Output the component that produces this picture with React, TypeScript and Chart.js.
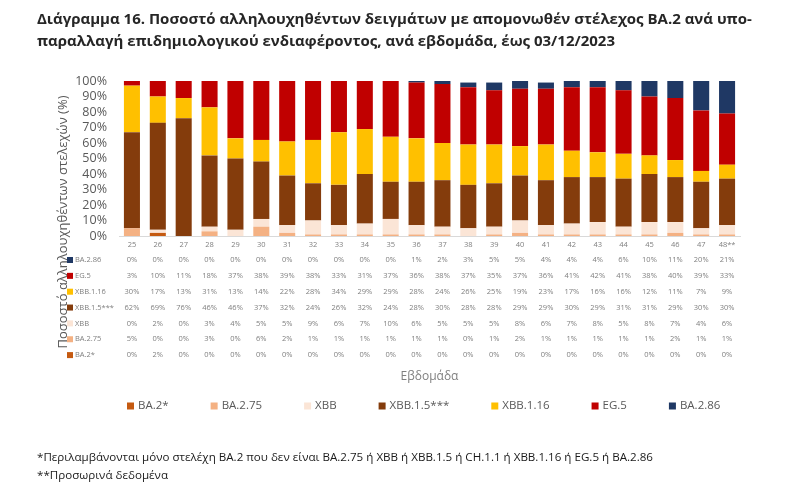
import React, { useEffect, useRef } from "react";
import { Chart, registerables } from "chart.js";

Chart.register(...registerables);

const FONT = "'Open Sans', 'Noto Sans', sans-serif";

const weeks = ["25", "26", "27", "28", "29", "30", "31", "32", "33", "34", "35", "36", "37", "38", "39", "40", "41", "42", "43", "44", "45", "46", "47", "48**"];

const ba2 = [0, 2, 0, 0, 0, 0, 0, 0, 0, 0, 0, 0, 0, 0, 0, 0, 0, 0, 0, 0, 0, 0, 0, 0];
const ba275 = [5, 0, 0, 3, 0, 6, 2, 1, 1, 1, 1, 1, 1, 0, 1, 2, 1, 1, 1, 1, 1, 2, 1, 1];
const xbb = [0, 2, 0, 3, 4, 5, 5, 9, 6, 7, 10, 6, 5, 5, 5, 8, 6, 7, 8, 5, 8, 7, 4, 6];
const xbb15 = [62, 69, 76, 46, 46, 37, 32, 24, 26, 32, 24, 28, 30, 28, 28, 29, 29, 30, 29, 31, 31, 29, 30, 30];
const xbb116 = [30, 17, 13, 31, 13, 14, 22, 28, 34, 29, 29, 28, 24, 26, 25, 19, 23, 17, 16, 16, 12, 11, 7, 9];
const eg5 = [3, 10, 11, 18, 37, 38, 39, 38, 33, 31, 37, 36, 38, 37, 35, 37, 36, 41, 42, 41, 38, 40, 39, 33];
const ba286 = [0, 0, 0, 0, 0, 0, 0, 0, 0, 0, 0, 1, 2, 3, 5, 5, 4, 4, 4, 6, 10, 11, 20, 21];

const seriesNames = ["BA.2*", "BA.2.75", "XBB", "XBB.1.5***", "XBB.1.16", "EG.5", "BA.2.86"];
const seriesValues = [ba2, ba275, xbb, xbb15, xbb116, eg5, ba286];
const seriesColors = ["#C55A11", "#F4B183", "#FBE5D6", "#843C0C", "#FFC000", "#C00000", "#1F3864"];

const yTitle = "Ποσοστό αλληλουχηθέντων στελεχών (%)";
const xTitle = "Εβδομάδα";
const titleLines = [
  "Διάγραμμα 16. Ποσοστό αλληλουχηθέντων δειγμάτων με απομονωθέν στέλεχος BA.2 ανά υπο-",
  "παραλλαγή επιδημιολογικού ενδιαφέροντος, ανά εβδομάδα, έως 03/12/2023",
];
const footnotes = [
  "*Περιλαμβάνονται μόνο στελέχη BA.2 που δεν είναι BA.2.75 ή XBB ή XBB.1.5 ή CH.1.1 ή XBB.1.16 ή EG.5 ή BA.2.86",
  "**Προσωρινά δεδομένα",
];

const extrasPlugin = {
  id: "extras",
  afterDraw(chart: any) {
    const ctx = chart.ctx as CanvasRenderingContext2D;
    const xs = chart.scales.x;
    const area = chart.chartArea;
    const dsets = chart.data.datasets;

    // y-axis title
    ctx.save();
    ctx.translate(63, 222);
    ctx.rotate(-Math.PI / 2);
    ctx.font = `13px ${FONT}`;
    ctx.fillStyle = "#595959";
    ctx.textAlign = "center";
    ctx.textBaseline = "middle";
    ctx.fillText(yTitle, 0, 0);
    ctx.restore();

    // data table
    ctx.save();
    ctx.font = `7.5px ${FONT}`;
    ctx.textBaseline = "middle";
    const order = dsets.map((_: any, i: number) => i).reverse();
    order.forEach((di: number, r: number) => {
      const ds = dsets[di];
      const y = area.bottom + 24 + r * 15.85;
      ctx.fillStyle = ds.backgroundColor;
      ctx.fillRect(67, y - 3, 6, 6);
      ctx.fillStyle = "#7f7f7f";
      ctx.textAlign = "left";
      ctx.fillText(ds.label, 75, y);
      ctx.textAlign = "center";
      (ds.data as number[]).forEach((v, j) => {
        ctx.fillText(v + "%", xs.getPixelForValue(j), y);
      });
    });
    ctx.restore();

    // legend
    ctx.save();
    ctx.font = `11.5px ${FONT}`;
    ctx.textBaseline = "middle";
    ctx.textAlign = "left";
    let x = 127;
    const ly = 406;
    dsets.forEach((ds: any) => {
      ctx.fillStyle = ds.backgroundColor;
      ctx.fillRect(x, ly - 3.5, 7, 7);
      ctx.fillStyle = "#595959";
      ctx.fillText(ds.label, x + 11, ly);
      x += 11 + ctx.measureText(ds.label).width + 42;
    });
    ctx.restore();
  },
};

export default function App() {
  const ref = useRef<HTMLCanvasElement | null>(null);

  useEffect(() => {
    if (!ref.current) return;
    const chart = new Chart(ref.current, {
      type: "bar",
      data: {
        labels: weeks,
        datasets: seriesNames.map((n, i) => ({
          label: n,
          data: seriesValues[i],
          backgroundColor: seriesColors[i],
          borderWidth: 0,
          barPercentage: 0.62,
          categoryPercentage: 1,
        })),
      },
      options: {
        animation: false,
        responsive: false,
        maintainAspectRatio: false,
        layout: { padding: { left: 0, right: 60, top: 81, bottom: 106 } },
        plugins: {
          legend: { display: false },
          title: { display: false },
          tooltip: { enabled: false },
        },
        scales: {
          x: {
            stacked: true,
            grid: { display: false, drawTicks: false },
            border: { display: true, color: "#d9d9d9" },
            ticks: { font: { size: 7.5, family: FONT }, color: "#7f7f7f", padding: 4, maxRotation: 0, autoSkip: false },
            title: { display: true, text: xTitle, font: { size: 12, family: FONT }, color: "#7f7f7f", padding: { top: 0, bottom: 2 } },
            afterFit: (s: any) => {
              s.height = 150;
            },
          },
          y: {
            stacked: true,
            min: 0,
            max: 100,
            grid: { display: false, drawTicks: false },
            border: { display: false },
            ticks: {
              stepSize: 10,
              autoSkip: false,
              callback: (v: any) => v + "%",
              font: { size: 12.5, family: FONT },
              color: "#595959",
              padding: 12,
            },
            afterFit: (s: any) => {
              s.width = 119;
            },
          },
        },
      },
      plugins: [extrasPlugin],
    });
    return () => chart.destroy();
  }, []);

  return (
    <div style={{ position: "absolute", left: 0, top: 0, width: 800, height: 492, background: "#fff" }}>
      <canvas ref={ref} width={800} height={492} style={{ position: "absolute", left: 0, top: 0, width: 800, height: 492 }} />
      <div
        style={{
          position: "absolute",
          left: 37,
          top: 7,
          fontFamily: FONT,
          fontWeight: 700,
          fontSize: 15,
          lineHeight: "22px",
          color: "#262626",
          whiteSpace: "nowrap",
        }}
      >
        {titleLines.map((t, i) => (
          <div key={i}>{t}</div>
        ))}
      </div>
      <div
        style={{
          position: "absolute",
          left: 37,
          top: 448,
          fontFamily: FONT,
          fontSize: 11.6,
          lineHeight: "18px",
          color: "#1a1a1a",
          whiteSpace: "nowrap",
        }}
      >
        {footnotes.map((t, i) => (
          <div key={i}>{t}</div>
        ))}
      </div>
    </div>
  );
}
